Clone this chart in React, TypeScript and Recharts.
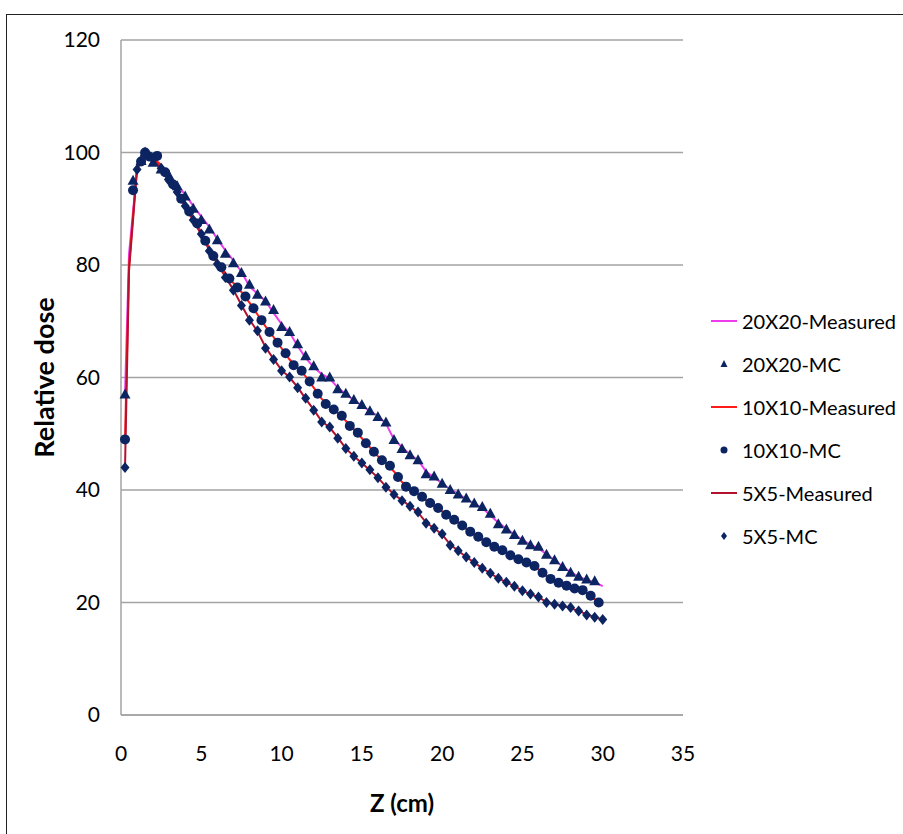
import { ComposedChart, Line, Scatter, XAxis, YAxis, CartesianGrid } from 'recharts'

const NAVY = '#0c2461'
const MAGENTA = '#ec3cec'
const RED = '#ff1a1a'
const DARK_RED = '#b3122f'

// depth (cm) and relative dose
const z20Mc = [0.25, 0.75, 1.25, 1.5, 2, 2.5, 3, 3.5, 4, 4.5, 5, 5.5, 6, 6.5, 7, 7.5, 8, 8.5, 9, 9.5, 10, 10.5, 11, 11.5, 12, 12.5, 13, 13.5, 14, 14.5, 15, 15.5, 16, 16.5, 17, 17.5, 18, 18.5, 19, 19.5, 20, 20.5, 21, 21.5, 22, 22.5, 23, 23.5, 24, 24.5, 25, 25.5, 26, 26.5, 27, 27.5, 28, 28.5, 29, 29.5]
const dose20Mc = [57, 95, 98.5, 100, 98.2, 97, 95.8, 94, 92.2, 90, 88, 86.3, 84.4, 82, 80.3, 78.6, 76.5, 74.7, 73.5, 72, 69, 68.1, 65.9, 63.8, 62, 60, 60, 57.9, 57.1, 56, 55.1, 54, 53, 52, 48.9, 47.3, 46.2, 45.3, 42.8, 42.4, 41.1, 40, 39.2, 38.5, 37.6, 37, 35.8, 33.9, 33, 32, 31, 30.2, 29.9, 28.5, 27.5, 26.3, 25.3, 24.6, 24.1, 23.8]

const zMeas = [0.25, 0.5, 1, 1.5, 2, 2.5, 3, 3.5, 4, 4.5, 5, 5.5, 6, 6.5, 7, 7.5, 8, 8.5, 9, 9.5, 10, 10.5, 11, 11.5, 12, 12.5, 13, 13.5, 14, 14.5, 15, 15.5, 16, 16.5, 17, 17.5, 18, 18.5, 19, 19.5, 20, 20.5, 21, 21.5, 22, 22.5, 23, 23.5, 24, 24.5, 25, 25.5, 26, 26.5, 27, 27.5, 28, 28.5, 29, 29.5, 30]
const dose20Meas = [57, 82, 97, 100, 98.5, 97.2, 95.8, 94.2, 92.5, 90.5, 88.6, 86.8, 84.6, 82.6, 80.8, 78.8, 76.2, 74.9, 73.6, 71.5, 69.5, 68, 65.6, 63.5, 61.8, 60.6, 59.8, 58.2, 57, 56, 55, 54, 53.2, 51.8, 49, 47.6, 46.3, 45.3, 43.3, 42.2, 41.2, 40.1, 39.3, 38.4, 37.6, 36.8, 35.5, 34.2, 33.1, 32.1, 31.1, 30.3, 29.6, 28.6, 27.5, 26.4, 25.4, 24.6, 24, 23.6, 22.9]
const dose10Meas = [49, 80, 97.5, 100, 99, 97.8, 95.5, 93, 90.6, 88.4, 85.8, 83, 80.6, 78.6, 76.8, 75.2, 73.3, 71.2, 69.1, 67.2, 65.2, 63.2, 61.7, 60.2, 58.2, 56.2, 54.8, 53.7, 52.3, 50.8, 49.2, 47.6, 46, 44.8, 43.3, 41.4, 40.2, 39.3, 38.2, 37.2, 36.2, 35.1, 34.2, 33.1, 32.2, 31.2, 30.3, 29.6, 28.8, 28, 27.4, 26.8, 25.9, 24.8, 23.8, 23.2, 22.7, 22.3, 21.7, 20.6, 19.5]
const dose5Meas = [44, 79, 97, 99.8, 98.8, 97.2, 95, 92.8, 90.4, 87.9, 85.4, 82.6, 80.2, 77.9, 75.6, 72.9, 70.3, 68.2, 65.4, 63.3, 61.3, 60, 58.3, 56.2, 54.3, 52.2, 51.1, 49.3, 47.4, 46, 44.8, 43.5, 42.2, 40.6, 39.2, 38.2, 37.1, 36, 34.2, 33.2, 32.1, 30.3, 29.2, 28.1, 27.1, 26.1, 25.2, 24.3, 23.6, 22.9, 22.1, 21.5, 20.9, 20.1, 19.7, 19.4, 19, 18.5, 17.9, 17.4, 17]

const z10Mc = [0.25, 0.75, 1.25, 1.5, 1.75, 2.25, 2.75, 3.25, 3.75, 4.25, 4.75, 5.25, 5.75, 6.25, 6.75, 7.25, 7.75, 8.25, 8.75, 9.25, 9.75, 10.25, 10.75, 11.25, 11.75, 12.25, 12.75, 13.25, 13.75, 14.25, 14.75, 15.25, 15.75, 16.25, 16.75, 17.25, 17.75, 18.25, 18.75, 19.25, 19.75, 20.25, 20.75, 21.25, 21.75, 22.25, 22.75, 23.25, 23.75, 24.25, 24.75, 25.25, 25.75, 26.25, 26.75, 27.25, 27.75, 28.25, 28.75, 29.25, 29.75]
const dose10Mc = [49, 93.3, 98.4, 100, 99.3, 99.4, 96.5, 94.3, 91.8, 89.5, 87.4, 84.3, 81.6, 79.6, 77.6, 76, 74.4, 72.3, 70.2, 68.1, 66.2, 64.3, 62.2, 61.2, 59.3, 57.1, 55.3, 54.3, 53.2, 51.4, 50.2, 48.3, 46.8, 45.3, 44.3, 42.3, 40.6, 39.8, 38.8, 37.7, 36.8, 35.6, 34.7, 33.7, 32.6, 31.7, 30.7, 29.9, 29.3, 28.4, 27.7, 27.1, 26.5, 25.3, 24.2, 23.5, 23, 22.5, 22.2, 21.2, 20]

const z5Mc = [0.25, 1, 1.5, 2, 2.5, 3, 3.5, 4, 4.5, 5, 5.5, 6, 6.5, 7, 7.5, 8, 8.5, 9, 9.5, 10, 10.5, 11, 11.5, 12, 12.5, 13, 13.5, 14, 14.5, 15, 15.5, 16, 16.5, 17, 17.5, 18, 18.5, 19, 19.5, 20, 20.5, 21, 21.5, 22, 22.5, 23, 23.5, 24, 24.5, 25, 25.5, 26, 26.5, 27, 27.5, 28, 28.5, 29, 29.5, 30]
const dose5Mc = [44, 97, 99.8, 98.8, 97.2, 95, 93, 90.5, 88, 85.5, 82.5, 80.2, 77.8, 75.5, 72.8, 70.2, 68.3, 65.2, 63.2, 61.2, 60.1, 58.2, 56.3, 54.2, 52.1, 51.2, 49.2, 47.4, 46, 44.8, 43.6, 42.2, 40.5, 39.2, 38.1, 37.1, 36.1, 34.1, 33.2, 32.2, 30.2, 29.2, 28.1, 27.1, 26.1, 25.2, 24.3, 23.6, 22.9, 22.1, 21.5, 21, 20, 19.7, 19.4, 19.1, 18.5, 17.8, 17.4, 17]

const xTicks = [0, 5, 10, 15, 20, 25, 30, 35]
const yTicks = [0, 20, 40, 60, 80, 100, 120]

const pairs = (zs: number[], vs: number[]) => zs.map((z, i) => ({ z, v: vs[i] }))

const Triangle = (p: any) => (
  <polygon points={`${p.cx},${p.cy - 6} ${p.cx - 5.5},${p.cy + 4} ${p.cx + 5.5},${p.cy + 4}`} fill={NAVY} />
)
const Dot = (p: any) => <circle cx={p.cx} cy={p.cy} r={5} fill={NAVY} />
const Diamond = (p: any) => (
  <polygon points={`${p.cx},${p.cy - 5.5} ${p.cx + 4.5},${p.cy} ${p.cx},${p.cy + 5.5} ${p.cx - 4.5},${p.cy}`} fill={NAVY} />
)

const legendItems = [
  { label: '20X20-Measured', kind: 'line', color: MAGENTA },
  { label: '20X20-MC', kind: 'tri' },
  { label: '10X10-Measured', kind: 'line', color: RED },
  { label: '10X10-MC', kind: 'dot' },
  { label: '5X5-Measured', kind: 'line', color: DARK_RED },
  { label: '5X5-MC', kind: 'diamond' },
]

function LegendIcon({ kind, color }: { kind: string; color?: string }) {
  return (
    <svg width={26} height={12} style={{ marginRight: 5 }}>
      {kind === 'line' && <line x1={0} y1={6} x2={26} y2={6} stroke={color} strokeWidth={2} />}
      {kind === 'tri' && <polygon points="13,2 9.5,9 16.5,9" fill={NAVY} />}
      {kind === 'dot' && <circle cx={13} cy={6} r={3.5} fill={NAVY} />}
      {kind === 'diamond' && <polygon points="13,2 16,6 13,10 10,6" fill={NAVY} />}
    </svg>
  )
}

const tickStyle = { fontSize: 21, fill: '#000', fontFamily: 'Lato' }

export default function App() {
  return (
    <div style={{ position: 'absolute', left: 0, top: 0, width: 903, height: 834, overflow: 'hidden', background: '#fff', fontFamily: 'Lato' }}>
      <div style={{ position: 'absolute', left: 6, top: 14, width: 1000, height: 1000, border: '1.5px solid #222' }} />
      <div style={{ position: 'absolute', left: 0, top: 0 }}>
        <ComposedChart width={903} height={834} margin={{ top: 40, right: 220, bottom: 19, left: 61 }}>
          <CartesianGrid vertical={false} stroke="#a3a3a3" strokeWidth={1.5} />
          <XAxis
            dataKey="z"
            type="number"
            domain={[0, 35]}
            ticks={xTicks}
            tick={tickStyle}
            tickSize={0}
            tickMargin={31}
            height={100}
            axisLine={{ stroke: '#a3a3a3', strokeWidth: 1.5 }}
            label={{ value: 'Z (cm)', position: 'insideBottom', offset: 3, style: { fontSize: 24, fontWeight: 700, fill: '#000', fontFamily: 'Lato' } }}
          />
          <YAxis
            type="number"
            domain={[0, 120]}
            ticks={yTicks}
            tick={tickStyle}
            tickSize={0}
            tickMargin={21}
            width={60}
            axisLine={{ stroke: '#a3a3a3', strokeWidth: 1.5 }}
            label={{ value: 'Relative dose', angle: -90, position: 'insideLeft', offset: -17, style: { fontSize: 27, fontWeight: 700, fill: '#000', fontFamily: 'Lato', textAnchor: 'middle' } }}
          />
          <Line data={pairs(zMeas, dose20Meas)} dataKey="v" stroke={MAGENTA} strokeWidth={2} dot={false} isAnimationActive={false} />
          <Scatter data={pairs(z20Mc, dose20Mc)} dataKey="v" shape={Triangle} isAnimationActive={false} />
          <Line data={pairs(zMeas, dose10Meas)} dataKey="v" stroke={RED} strokeWidth={2} dot={false} isAnimationActive={false} />
          <Scatter data={pairs(z10Mc, dose10Mc)} dataKey="v" shape={Dot} isAnimationActive={false} />
          <Line data={pairs(zMeas, dose5Meas)} dataKey="v" stroke={DARK_RED} strokeWidth={2} dot={false} isAnimationActive={false} />
          <Scatter data={pairs(z5Mc, dose5Mc)} dataKey="v" shape={Diamond} isAnimationActive={false} />
        </ComposedChart>
      </div>
      <div style={{ position: 'absolute', left: 711, top: 299 }}>
        {legendItems.map((it) => (
          <div key={it.label} style={{ display: 'flex', alignItems: 'center', height: 43, fontSize: 20, color: '#000', whiteSpace: 'nowrap' }}>
            <LegendIcon kind={it.kind} color={it.color} />
            <span>{it.label}</span>
          </div>
        ))}
      </div>
    </div>
  )
}
